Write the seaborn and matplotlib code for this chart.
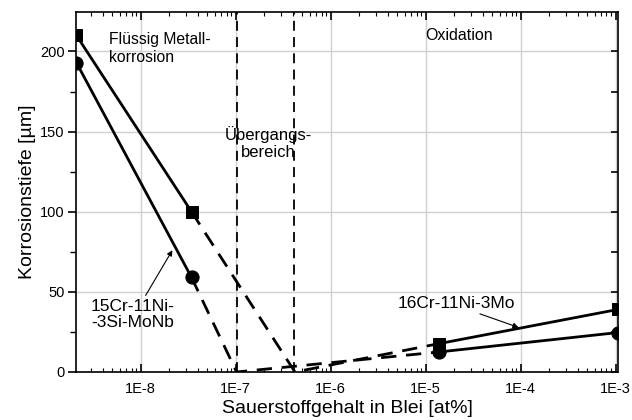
import numpy as np
import pandas as pd
import matplotlib
matplotlib.use("Agg")
import matplotlib.pyplot as plt
import matplotlib.ticker as mticker
import seaborn as sns

sns.set_theme(style="white")
plt.rcParams['font.family'] = ['Liberation Sans', 'DejaVu Sans']
plt.rcParams['text.color'] = 'black'
plt.rcParams['axes.labelcolor'] = 'black'
plt.rcParams['xtick.color'] = 'black'
plt.rcParams['ytick.color'] = 'black'

# ---- data ----
sq_solid1_x = [2.1e-9, 3.42e-8]
sq_solid1_y = [210, 100]
sq_dash_x = [3.42e-8, 4.2e-7, 1.38e-5]
sq_dash_y = [100, 0, 17.7]
sq_solid2_x = [1.38e-5, 1.05e-3]
sq_solid2_y = [17.7, 39]
sq_pts_x = [2.1e-9, 3.42e-8, 1.38e-5, 1.05e-3]
sq_pts_y = [210, 100, 17.7, 39]

ci_solid1_x = [2.1e-9, 3.42e-8]
ci_solid1_y = [193, 59]
ci_dash_x = [3.42e-8, 1.02e-7, 1.38e-5]
ci_dash_y = [59, 0, 12.5]
ci_solid2_x = [1.38e-5, 1.05e-3]
ci_solid2_y = [12.5, 24.6]
ci_pts_x = [2.1e-9, 3.42e-8, 1.38e-5, 1.05e-3]
ci_pts_y = [193, 59, 12.5, 24.6]

region_bounds = [1.03e-7, 4.15e-7]

x_ticks = [1e-8, 1e-7, 1e-6, 1e-5, 1e-4, 1e-3]
x_tick_labels = ["1E-8", "1E-7", "1E-6", "1E-5", "1E-4", "1E-3"]
y_ticks = [0, 50, 100, 150, 200]

fig = plt.figure(figsize=(6.32, 4.2), dpi=100)
ax = fig.add_axes([0.120, 0.1143, 0.858, 0.857])
ax.set_xscale('log')

k = dict(ax=ax, color='black', estimator=None, sort=False, legend=False)
sns.lineplot(x=sq_solid1_x, y=sq_solid1_y, lw=2, **k)
sns.lineplot(x=sq_solid2_x, y=sq_solid2_y, lw=2, **k)
sns.lineplot(x=ci_solid1_x, y=ci_solid1_y, lw=2, **k)
sns.lineplot(x=ci_solid2_x, y=ci_solid2_y, lw=2, **k)
sns.lineplot(x=sq_dash_x, y=sq_dash_y, lw=2, **k)
ax.lines[-1].set_dashes([5.5, 3.5])
sns.lineplot(x=ci_dash_x, y=ci_dash_y, lw=2, **k)
ax.lines[-1].set_dashes([5.5, 3.5])

sns.scatterplot(x=sq_pts_x, y=sq_pts_y, marker='s', s=80, color='black',
                edgecolor='black', ax=ax, zorder=5, legend=False)
sns.scatterplot(x=ci_pts_x, y=ci_pts_y, marker='o', s=90, color='black',
                edgecolor='black', ax=ax, zorder=5, legend=False)

for xb in region_bounds:
    ax.axvline(xb, color='black', lw=1.3, dashes=(5.5, 3.5), zorder=3)

ax.set_xlim(2.07e-9, 1.06e-3)
ax.set_ylim(0, 224.6)

ax.xaxis.set_major_locator(mticker.FixedLocator(x_ticks))
ax.set_xticklabels(x_tick_labels)
ax.xaxis.set_minor_locator(mticker.LogLocator(base=10, subs=np.arange(2, 10)))
ax.xaxis.set_minor_formatter(mticker.NullFormatter())
ax.set_yticks(y_ticks)
ax.yaxis.set_minor_locator(mticker.MultipleLocator(25))

ax.grid(True, which='major', color='#d0d0d0', lw=1)
ax.set_axisbelow(True)
for s in ax.spines.values():
    s.set_color('black')
    s.set_linewidth(1.2)

ax.tick_params(axis='x', which='major', direction='in', top=True, bottom=True,
               length=6, width=1.2, labelsize=10.5, pad=7, colors='black')
ax.tick_params(axis='x', which='minor', direction='in', top=True, bottom=True,
               length=3, width=0.8)
ax.tick_params(axis='y', which='major', direction='out', left=True, right=False,
               length=6, width=1.2, labelsize=10.5, pad=2, colors='black')
ax.tick_params(axis='y', which='minor', direction='out', left=True, right=False,
               length=4, width=1.0)
axr = ax.twinx()
axr.set_ylim(ax.get_ylim())
axr.set_yticks(y_ticks)
axr.yaxis.set_minor_locator(mticker.MultipleLocator(25))
axr.tick_params(axis='y', which='both', direction='in', labelright=False,
                length=5, width=1.2)
axr.grid(False)
for s in axr.spines.values():
    s.set_visible(False)

ax.set_xlabel("Sauerstoffgehalt in Blei [at%]", fontsize=14, labelpad=3, color='black')
ax.set_ylabel("Korrosionstiefe [µm]", fontsize=14, labelpad=3, color='black')

ax.text(4.6e-9, 202, "Flüssig Metall-\nkorrosion", fontsize=11.3, va='center',
        linespacing=1.25)
ax.text(2.22e-7, 143, "Übergangs-\nbereich", fontsize=12, ha='center',
        va='center', linespacing=1.2)
ax.text(1.0e-5, 210, "Oxidation", fontsize=11.5, va='center')

ax.annotate("15Cr-11Ni-\n-3Si-MoNb", xy=(2.15e-8, 76), xytext=(2.98e-9, 36),
            fontsize=12.5, va='center', ha='left', linespacing=1.1,
            arrowprops=dict(arrowstyle='-|>', color='black', lw=0.8,
                            shrinkA=0, shrinkB=0, mutation_scale=8,
                            relpos=(0.63, 1.0)))
ax.annotate("16Cr-11Ni-3Mo", xy=(9.5e-5, 27.8), xytext=(5.07e-6, 43),
            fontsize=12.5, va='center', ha='left',
            arrowprops=dict(arrowstyle='-|>', color='black', lw=0.8,
                            shrinkA=0, shrinkB=0, mutation_scale=8,
                            relpos=(0.62, 0.0)))

fig.savefig("out.png", dpi=100)
